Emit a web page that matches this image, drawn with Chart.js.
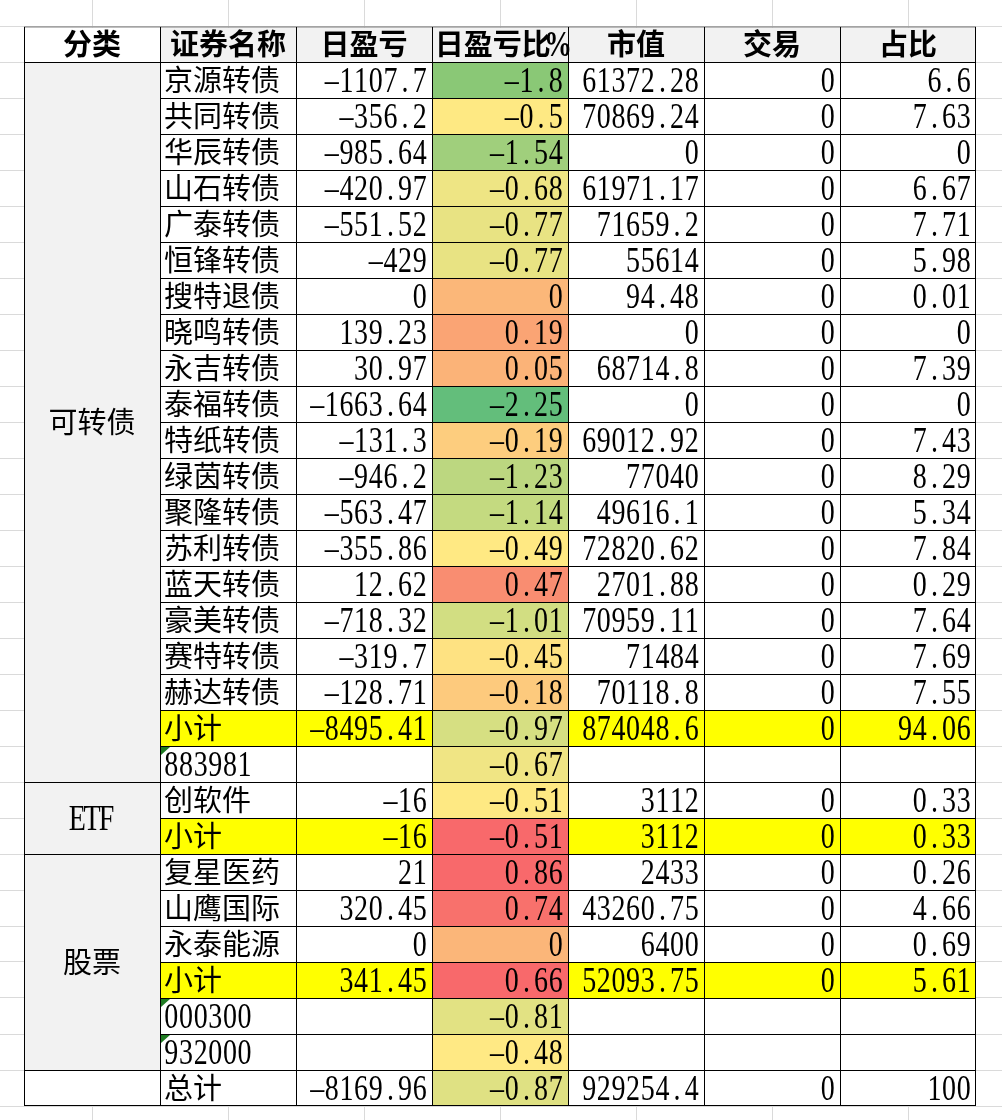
<!DOCTYPE html>
<html>
<head>
<meta charset="utf-8">
<script src="https://cdn.jsdelivr.net/npm/chart.js@4.4.1/dist/chart.umd.min.js"></script>
<style>
    body { margin: 0; background: #fff; }
    #wrap { position: relative; width: 1002px; height: 1120px; }
</style>
</head>
<body>
<div id="wrap"><canvas id="sheet"></canvas></div>
<script>
// 表头
const headers = ['分类', '证券名称', '日盈亏', '日盈亏比%', '市值', '交易', '占比'];

// 分类 (合并单元格) 以及每个分类占的行数
const sections = ['可转债', 'ETF', '股票', ''];
const sectionRows = [20, 2, 6, 1];

// 各行数据
const names = ['京源转债', '共同转债', '华辰转债', '山石转债', '广泰转债', '恒锋转债', '搜特退债', '晓鸣转债',
    '永吉转债', '泰福转债', '特纸转债', '绿茵转债', '聚隆转债', '苏利转债', '蓝天转债', '豪美转债', '赛特转债',
    '赫达转债', '小计', '883981', '创软件', '小计', '复星医药', '山鹰国际', '永泰能源', '小计', '000300', '932000', '总计'];
const dailyPL = [-1107.7, -356.2, -985.64, -420.97, -551.52, -429, 0, 139.23, 30.97, -1663.64, -131.3, -946.2,
    -563.47, -355.86, 12.62, -718.32, -319.7, -128.71, -8495.41, null, -16, -16, 21, 320.45, 0, 341.45, null, null, -8169.96];
const dailyPct = [-1.8, -0.5, -1.54, -0.68, -0.77, -0.77, 0, 0.19, 0.05, -2.25, -0.19, -1.23, -1.14, -0.49, 0.47,
    -1.01, -0.45, -0.18, -0.97, -0.67, -0.51, -0.51, 0.86, 0.74, 0, 0.66, -0.81, -0.48, -0.87];
const marketValue = [61372.28, 70869.24, 0, 61971.17, 71659.2, 55614, 94.48, 0, 68714.8, 0, 69012.92, 77040,
    49616.1, 72820.62, 2701.88, 70959.11, 71484, 70118.8, 874048.6, null, 3112, 3112, 2433, 43260.75, 6400, 52093.75, null, null, 929254.4];
const trades = [0, 0, 0, 0, 0, 0, 0, 0, 0, 0, 0, 0, 0, 0, 0, 0, 0, 0, 0, null, 0, 0, 0, 0, 0, 0, null, null, 0];
const weights = [6.6, 7.63, 0, 6.67, 7.71, 5.98, 0.01, 0, 7.39, 0, 7.43, 8.29, 5.34, 7.84, 0.29, 7.64, 7.69,
    7.55, 94.06, null, 0.33, 0.33, 0.26, 4.66, 0.69, 5.61, null, null, 100];

// 日盈亏比% 的条件格式底色 (从截图上取色)
const pctColors = ['#8ac876', '#fee983', '#a0cf7c', '#eee584', '#e8e383', '#e8e383', '#fbb779', '#faa474',
    '#fbb378', '#63be7b', '#fdcd7e', '#bcd780', '#c4da80', '#ffe983', '#f98d71', '#d2de82', '#fee282',
    '#fdca7d', '#d6df82', '#f0e584', '#fee983', '#f8696b', '#f8696b', '#f8716c', '#fbb679', '#f8696b',
    '#e2e283', '#ffe984', '#dfe183'];

// 版面
const COL_W = 136, ROW_H = 36, LEFT = 24, TOP = 26, W = 1002, H = 1120;
const GRAY = '#f2f2f2', YELLOW = '#ffff00';
const nRows = names.length + 1;

const fmt = v => (v === null || v === undefined) ? '' : String(v);

// 生成每一列的单元格 (浮动柱)
const columns = [];
for (let c = 0; c < headers.length; c++) columns.push([]);

headers.forEach((h, c) => {
    columns[c].push({ x: c + 0.5, y: [0, 1], text: h, align: 'center', bold: true, fill: c === 0 ? '#fff' : GRAY });
});

let start = 1;
sections.forEach((s, i) => {
    columns[0].push({ x: 0.5, y: [start, start + sectionRows[i]], text: s, align: 'center', fill: s ? GRAY : '#fff' });
    start += sectionRows[i];
});

names.forEach((name, i) => {
    const r = i + 1;
    const sub = name === '小计';
    const rowFill = sub ? YELLOW : '#fff';
    const vals = [dailyPL[i], dailyPct[i], marketValue[i], trades[i], weights[i]];
    columns[1].push({ x: 1.5, y: [r, r + 1], text: name, align: 'left', fill: rowFill, mark: /^\d+$/.test(name) });
    vals.forEach((v, k) => {
        const c = k + 2;
        columns[c].push({ x: c + 0.5, y: [r, r + 1], text: fmt(v), align: 'right', fill: c === 3 ? pctColors[i] : rowFill });
    });
});

const datasets = columns.map(cells => ({
    data: cells,
    grouped: false,
    barPercentage: 1,
    categoryPercentage: 1,
    borderSkipped: false,
    inflateAmount: 0,
    borderColor: '#000',
    backgroundColor: ctx => ctx.raw.fill,
    borderWidth: ctx => ({
        top: 1, left: 1,
        right: ctx.raw.x > headers.length - 1 ? 1 : 0,
        bottom: ctx.raw.y[1] >= nRows ? 1 : 0
    })
}));

// 宋体式的排字: 汉字占一格, 其它字符占半格
const FS = 29, HW = 14.65;
const isCJK = ch => ch.charCodeAt(0) > 0x2e80;

function textWidth(str) {
    let w = 0;
    for (const ch of str) w += isCJK(ch) ? FS : HW;
    return w;
}

function drawText(ctx, str, x, base, bold) {
    for (const ch of str) {
        if (isCJK(ch)) {
            ctx.font = (bold ? 'bold ' : '') + FS + 'px "Noto Sans CJK SC"';
            ctx.textAlign = 'left';
            ctx.fillText(ch, x, base - 0.8);
            x += FS;
        } else {
            ctx.save();
            ctx.translate(x + HW / 2, base);
            ctx.scale(0.8, 1);
            ctx.font = (bold ? 'bold ' : '') + '35px "Liberation Serif"';
            ctx.textAlign = 'center';
            ctx.fillText(ch === '-' ? '\u2013' : ch, 0, 0);
            ctx.restore();
            x += HW;
        }
    }
}

const cellText = {
    id: 'cellText',
    afterDatasetsDraw(chart) {
        const ctx = chart.ctx;
        ctx.save();
        ctx.fillStyle = '#000';
        ctx.textBaseline = 'alphabetic';
        chart.data.datasets.forEach((ds, i) => {
            chart.getDatasetMeta(i).data.forEach((el, j) => {
                const cell = ds.data[j];
                const x0 = el.x - el.width / 2, x1 = el.x + el.width / 2;
                const top = Math.min(el.y, el.base), bottom = Math.max(el.y, el.base);
                if (cell.mark) {
                    ctx.fillStyle = '#1e7b22';
                    ctx.beginPath();
                    ctx.moveTo(x0 + 1, top + 1);
                    ctx.lineTo(x0 + 10, top + 1);
                    ctx.lineTo(x0 + 1, top + 9);
                    ctx.closePath();
                    ctx.fill();
                    ctx.fillStyle = '#000';
                }
                if (!cell.text) return;
                const w = textWidth(cell.text);
                let x;
                if (cell.align === 'left') x = x0 + 4;
                else if (cell.align === 'right') x = x1 - 5 - w;
                else x = (x0 + x1) / 2 - w / 2;
                drawText(ctx, cell.text, x, (top + bottom) / 2 + 12, cell.bold);
            });
        });
        ctx.restore();
    }
};

const sheet = new Chart(document.getElementById('sheet'), {
    type: 'bar',
    data: { datasets: datasets },
    options: {
        responsive: true,
        maintainAspectRatio: false,
        animation: false,
        events: [],
        layout: { padding: 0 },
        plugins: {
            legend: { display: false },
            tooltip: { enabled: false }
        },
        scales: {
            x: {
                type: 'linear',
                offset: false,
                min: -LEFT / COL_W,
                max: (W - LEFT) / COL_W,
                ticks: { display: false, stepSize: 1, includeBounds: false, maxTicksLimit: 100 },
                grid: { color: '#dadada', drawTicks: false },
                border: { display: false }
            },
            y: {
                type: 'linear',
                reverse: true,
                min: -TOP / ROW_H,
                max: (H - TOP) / ROW_H,
                ticks: { display: false, stepSize: 1, includeBounds: false, maxTicksLimit: 100 },
                grid: { color: '#dadada', drawTicks: false },
                border: { display: false }
            }
        }
    },
    plugins: [cellText]
});
</script>
</body>
</html>
